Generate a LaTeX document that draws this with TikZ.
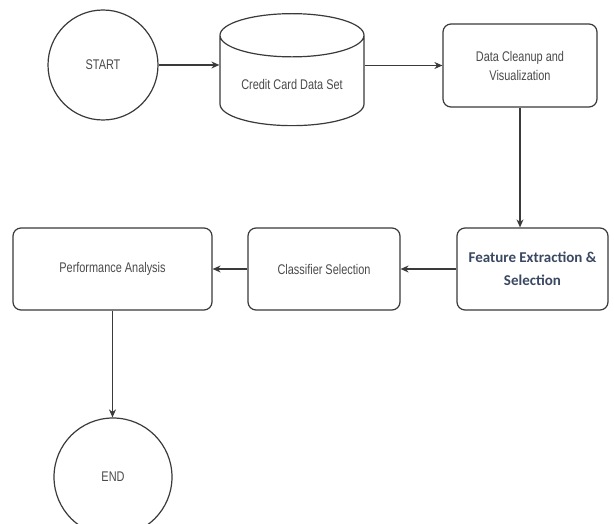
\documentclass[tikz,border=0pt]{standalone}
\usepackage{fontspec}
\setmainfont{Liberation Sans}[FakeStretch=0.78]
\newfontfamily\featurefont{Carlito}
\usetikzlibrary{arrows.meta}
\usetikzlibrary{shapes.geometric}
\definecolor{linegrey}{HTML}{3A3A3A}
\definecolor{textgrey}{HTML}{4A4A4A}
\definecolor{slatetext}{HTML}{3A4862}

\begin{document}
\begin{tikzpicture}[x=1pt, y=-1pt,
        step box/.style={rectangle, draw=linegrey, line width=1.2pt,
          rounded corners=8pt, align=center, text=textgrey,
          font=\fontsize{14}{19}\selectfont},
        terminal/.style={circle, draw=linegrey, line width=1.2pt,
          text=textgrey, font=\fontsize{14}{19}\selectfont},
        dbase/.style={cylinder, shape border rotate=90, draw=linegrey,
          line width=1.2pt, aspect=0.4, text=textgrey,
          font=\fontsize{14}{19}\selectfont},
        flow/.style={draw=linegrey, line width=1.2pt,
          -{Stealth[length=8pt, width=7pt]}},
      ]

      % Canvas
      \clip (0,0) rectangle (614,524);
      \fill[white] (0,0) rectangle (614,524);

      % Top row
      \node[terminal, minimum size=110pt] (start) at (103,65) {START};
      \node[dbase, minimum width=144pt, minimum height=112pt] (dataset)
        at (292,84) {Credit Card Data Set};
      \node[step box, minimum width=154pt, minimum height=83pt] (cleanup)
        at (520,65.5) {Data Cleanup and\\Visualization};

      % Middle row
      \node[step box, minimum width=151pt, minimum height=82pt,
        text=slatetext, font=\featurefont\bfseries\fontsize{15}{23}\selectfont]
        (feature) at (532.5,269) {Feature Extraction \&\\Selection};
      \node[step box, minimum width=152pt, minimum height=82pt] (classifier)
        at (324,269) {Classifier Selection};
      \node[step box, minimum width=199pt, minimum height=82pt] (perf)
        at (112.5,269) {Performance Analysis};

      % Bottom
      \node[terminal, minimum size=118pt] (finish) at (113,477) {END};

      % Connectors
      \draw[flow] (start) -- (start -| dataset.west);
      \draw[flow] (cleanup.west -| dataset.east) -- (cleanup.west);
      \draw[flow] (cleanup.south) -- (cleanup.south |- feature.north);
      \draw[flow] (feature) -- (classifier);
      \draw[flow] (classifier) -- (perf);
      \draw[flow] (perf.south) -- (perf.south |- finish.north);

\end{tikzpicture}
\end{document}
